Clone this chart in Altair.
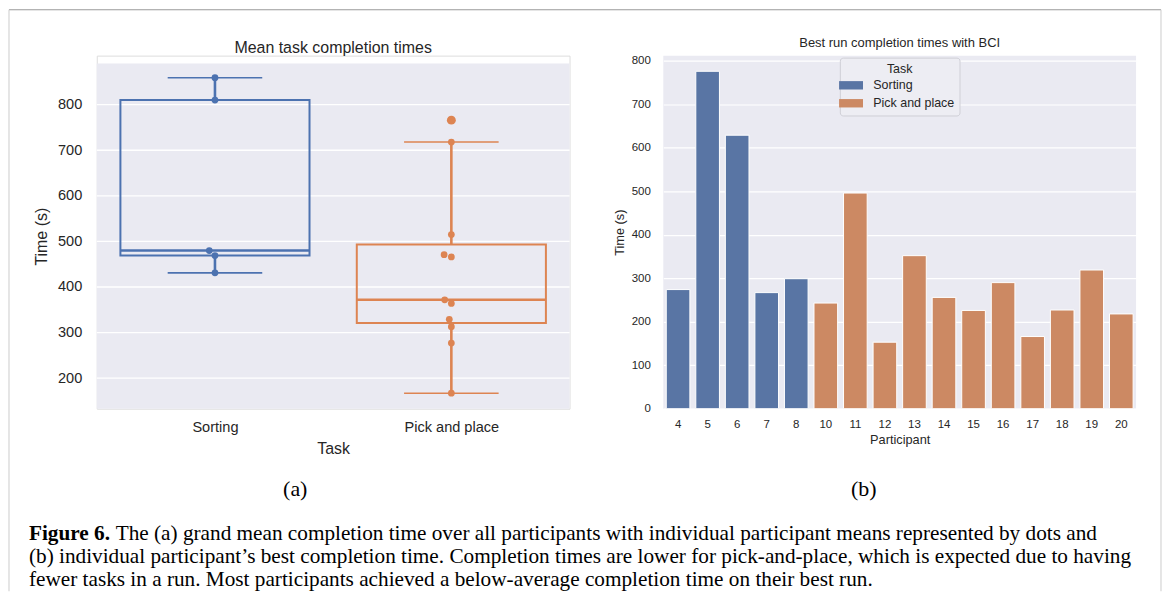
import math
import altair as alt
import pandas as pd

# ---------------- data ----------------
tasks = ["Sorting", "Pick and place"]
sorting_means = [859, 810, 480, 469, 431]
pick_means = [766, 718, 515, 471, 466, 372, 364, 329, 313, 277, 167]
left_ticks = [200, 300, 400, 500, 600, 700, 800]

participants = ["4", "5", "6", "7", "8", "10", "11", "12", "13", "14",
                "15", "16", "17", "18", "19", "20"]
participant_task = ["Sorting"] * 5 + ["Pick and place"] * 11
best_times = [274, 776, 629, 267, 299, 243, 496, 153, 352, 256,
              226, 290, 166, 227, 319, 218]
right_ticks = [0, 100, 200, 300, 400, 500, 600, 700, 800]

caption_bold = "Figure 6."
caption_1 = ("The (a) grand mean completion time over all participants with "
             "individual participant means represented by dots and")
caption_2 = ("(b) individual participant\u2019s best completion time. Completion times "
             "are lower for pick-and-place, which is expected due to having")
caption_3 = ("fewer tasks in a run. Most participants achieved a below-average "
             "completion time on their best run.")

# ---------------- layout constants ----------------
W = 474
H = 354
LTOP = 8
YDOM_L = [133, 890]
YDOM_R = [0, 812]
FONT = "Liberation Sans"
SERIF = "Liberation Serif"
TXT = "#262626"
BG = "#EAEAF2"
CAP_FS = 21.3


def swarm_offsets(values, px_per_unit_y, px_per_unit_x, d=7.6):
    """simple beeswarm: returns x offsets (data units) for each value"""
    placed = []
    offs = [0.0] * len(values)
    for i in sorted(range(len(values)), key=lambda k: values[k]):
        y = values[i] * px_per_unit_y
        cands = [0.0]
        for py, px in placed:
            dy = abs(y - py)
            if dy < d:
                dx = math.sqrt(d * d - dy * dy)
                cands += [px - dx, px + dx]
        cands.sort(key=lambda c: (round(abs(c), 6), c))
        for c in cands:
            if all((c - px) ** 2 + (y - py) ** 2 >= d * d - 1e-6 for py, px in placed):
                break
        placed.append((y, c))
        offs[i] = c / px_per_unit_x
    return offs


ky = (H - LTOP) / (YDOM_L[1] - YDOM_L[0])
kx = W / 2.0
rows = []
for idx, (t, vals) in enumerate(zip(tasks, [sorting_means, pick_means])):
    jit = swarm_offsets(vals, ky, kx)
    for v, j in zip(vals, jit):
        rows.append({"task": t, "idx": idx, "time": v, "xpos": idx + j})
df_left = pd.DataFrame(rows)

df_right = pd.DataFrame({"participant": participants, "Task": participant_task,
                         "best": best_times})
one = pd.DataFrame({"k": [0]})

# ---------------- left panel ----------------
xscale = alt.Scale(domain=[-0.5, 1.5], nice=False, zero=False)
yscale = alt.Scale(domain=YDOM_L, range=[H, LTOP], nice=False, zero=False)
label_expr = "['" + "','".join(tasks) + "'][datum.value]"
x_axis = alt.Axis(title="Task", values=[0, 1], labelExpr=label_expr, grid=False,
                  ticks=False, domain=False, labelFontSize=14.6, labelPadding=11,
                  labelColor=TXT, titleColor=TXT, titleFontSize=16,
                  titleFontWeight="normal", titleY=40, titleBaseline="middle",
                  labelFont=FONT, titleFont=FONT)
y_axis = alt.Axis(title="Time (s)", values=left_ticks, grid=False, ticks=False,
                  domain=False, labelFontSize=14.6, labelPadding=15, labelColor=TXT,
                  titleColor=TXT, titleFontSize=16, titleFontWeight="normal",
                  titleX=-55, titleY=181, titleAngle=-90, titleAlign="center",
                  titleBaseline="middle", labelFont=FONT, titleFont=FONT)


def X(f):
    return alt.X(f, type="quantitative", scale=xscale, axis=x_axis)


def Y(f):
    return alt.Y(f, type="quantitative", scale=yscale, axis=y_axis)


lcolor = alt.Color("task:N", scale=alt.Scale(domain=tasks, range=["#4C72B0", "#DD8452"]),
                   legend=None)

bg = alt.Chart(one).mark_rect(fill=BG).encode(
    x=alt.value(0), x2=alt.value(W), y=alt.value(LTOP), y2=alt.value(H))

grid = alt.Chart(pd.DataFrame({"t": left_ticks})).mark_rule(
    color="white", strokeWidth=1.3).encode(y=Y("t"), x=alt.value(0), x2=alt.value(W))

stats = alt.Chart(df_left).transform_joinaggregate(
    q1="q1(time)", q3="q3(time)", med="median(time)", groupby=["task", "idx"]
).transform_calculate(
    lo="datum.q1 - 1.5 * (datum.q3 - datum.q1)",
    hi="datum.q3 + 1.5 * (datum.q3 - datum.q1)")

whisk = stats.transform_filter("datum.time >= datum.lo && datum.time <= datum.hi"
).transform_aggregate(
    wmin="min(time)", wmax="max(time)", q1="min(q1)", q3="min(q3)", med="min(med)",
    groupby=["task", "idx"]
).transform_calculate(
    xl="datum.idx - 0.4", xr="datum.idx + 0.4",
    cl="datum.idx - 0.2", cr="datum.idx + 0.2")

box = whisk.mark_rect(fillOpacity=0, strokeWidth=2).encode(
    x=X("xl"), x2="xr:Q", y=Y("q1"), y2="q3:Q",
    stroke=alt.Stroke("task:N", scale=alt.Scale(domain=tasks, range=["#4C72B0", "#DD8452"]),
                      legend=None))
median = whisk.mark_rule(strokeWidth=2.6).encode(x=X("xl"), x2="xr:Q", y=Y("med"), color=lcolor)
wlow = whisk.mark_rule(strokeWidth=2.6).encode(x=X("idx"), y=Y("wmin"), y2="q1:Q", color=lcolor)
whigh = whisk.mark_rule(strokeWidth=2.6).encode(x=X("idx"), y=Y("q3"), y2="wmax:Q", color=lcolor)
caplow = whisk.mark_rule(strokeWidth=1.6).encode(x=X("cl"), x2="cr:Q", y=Y("wmin"), color=lcolor)
caphigh = whisk.mark_rule(strokeWidth=1.6).encode(x=X("cl"), x2="cr:Q", y=Y("wmax"), color=lcolor)

points = alt.Chart(df_left).mark_circle(size=46, opacity=1).encode(
    x=X("xpos"), y=Y("time"), color=lcolor)
fliers = stats.transform_filter("datum.time < datum.lo || datum.time > datum.hi"
).mark_circle(size=80, opacity=1).encode(x=X("idx"), y=Y("time"), color=lcolor)

ltitle = alt.Chart(one).mark_text(fontSize=16, font=FONT, color=TXT, baseline="middle").encode(
    x=alt.value(W / 2), y=alt.value(-8), text=alt.value("Mean task completion times"))
lab_a = alt.Chart(one).mark_text(fontSize=22, font=SERIF, color="black", baseline="middle").encode(
    x=alt.value(199), y=alt.value(435), text=alt.value("(a)"))

CX = -68
cap = []
cap.append(alt.Chart(one).mark_text(fontSize=CAP_FS, font=SERIF, fontWeight="bold", color="black",
                                    align="left", baseline="middle").encode(
    x=alt.value(CX), y=alt.value(479.5), text=alt.value(caption_bold)))
for txt, xx, yy in [(caption_1, CX + 87, 479.5), (caption_2, CX, 502.5), (caption_3, CX, 525.5)]:
    cap.append(alt.Chart(one).mark_text(fontSize=CAP_FS, font=SERIF, color="black",
                                        align="left", baseline="middle").encode(
        x=alt.value(xx), y=alt.value(yy), text=alt.value(txt)))

FR_L, FR_R, FR_T, FR_B = -88, 1067, -46, 537
frame_top = alt.Chart(one).mark_rule(color="#9a9a9a", strokeWidth=1).encode(
    x=alt.value(FR_L), x2=alt.value(FR_R), y=alt.value(FR_T))
frame_left = alt.Chart(one).mark_rule(color="#cccccc", strokeWidth=1).encode(
    x=alt.value(FR_L), y=alt.value(FR_T), y2=alt.value(FR_B))
frame_right = alt.Chart(one).mark_rule(color="#cccccc", strokeWidth=1).encode(
    x=alt.value(FR_R), y=alt.value(FR_T), y2=alt.value(FR_B))

left = alt.layer(frame_top, frame_left, frame_right, bg, grid, box, wlow, whigh, caplow,
                 caphigh, median, points, fliers, ltitle, lab_a, *cap).properties(
    width=W, height=H)

# ---------------- right panel ----------------
legend_symbol = "M-2,-0.7L2,-0.7L2,0.7L-2,0.7Z"
bars = alt.Chart(df_right).mark_bar(stroke="white", strokeWidth=1).encode(
    x=alt.X("participant:N", sort=participants,
            scale=alt.Scale(paddingInner=0.2, paddingOuter=0.1),
            axis=alt.Axis(title="Participant", labelAngle=0, ticks=False, domain=False,
                          labelFontSize=11.5, labelPadding=10, labelColor=TXT,
                          titleFontSize=12.8, titleFontWeight="normal", titleColor=TXT,
                          titleY=31, titleBaseline="middle", labelFont=FONT,
                          titleFont=FONT)),
    y=alt.Y("best:Q", scale=alt.Scale(domain=YDOM_R, nice=False),
            axis=alt.Axis(title="Time (s)", values=right_ticks, grid=True,
                          gridColor="white", gridWidth=1.2, ticks=False, domain=False,
                          labelFontSize=11.5, labelPadding=13, labelColor=TXT,
                          titleFontSize=12.8, titleFontWeight="normal", titleColor=TXT,
                          titleX=-44, titleY=177, titleAngle=-90, titleAlign="center",
                          titleBaseline="middle", labelFont=FONT, titleFont=FONT)),
    color=alt.Color("Task:N", scale=alt.Scale(domain=tasks, range=["#5975A4", "#CC8963"]),
                    legend=alt.Legend(title="Task", orient="none", legendX=177, legendY=2,
                                      direction="vertical", fillColor="#EDEDF3",
                                      strokeColor="#CFCFD6", cornerRadius=3, padding=5,
                                      titleFontSize=12.5, titleFontWeight="normal",
                                      titleColor=TXT, labelColor=TXT, labelFontSize=12.5,
                                      titleAnchor="middle", titleFont=FONT, labelFont=FONT,
                                      symbolType=legend_symbol, symbolSize=144,
                                      symbolStrokeWidth=0, labelOffset=16, rowPadding=5,
                                      titlePadding=4)),
)
rtitle = alt.Chart(one).mark_text(fontSize=13, font=FONT, color=TXT, baseline="middle").encode(
    x=alt.value(W / 2), y=alt.value(-13), text=alt.value("Best run completion times with BCI"))
lab_b = alt.Chart(one).mark_text(fontSize=22, font=SERIF, color="black", baseline="middle").encode(
    x=alt.value(201), y=alt.value(435), text=alt.value("(b)"))

right = alt.layer(bars, rtitle, lab_b).properties(
    width=W, height=H, view=alt.ViewBackground(fill=BG, stroke=None))

chart = alt.hconcat(left, right, spacing=94, bounds="flush").resolve_scale(
    color="independent", x="independent", y="independent"
).properties(padding=0, background="white").configure_view(stroke=None).configure(font=FONT)

chart.save("out.html", embed_options={"renderer": "svg", "actions": False})
